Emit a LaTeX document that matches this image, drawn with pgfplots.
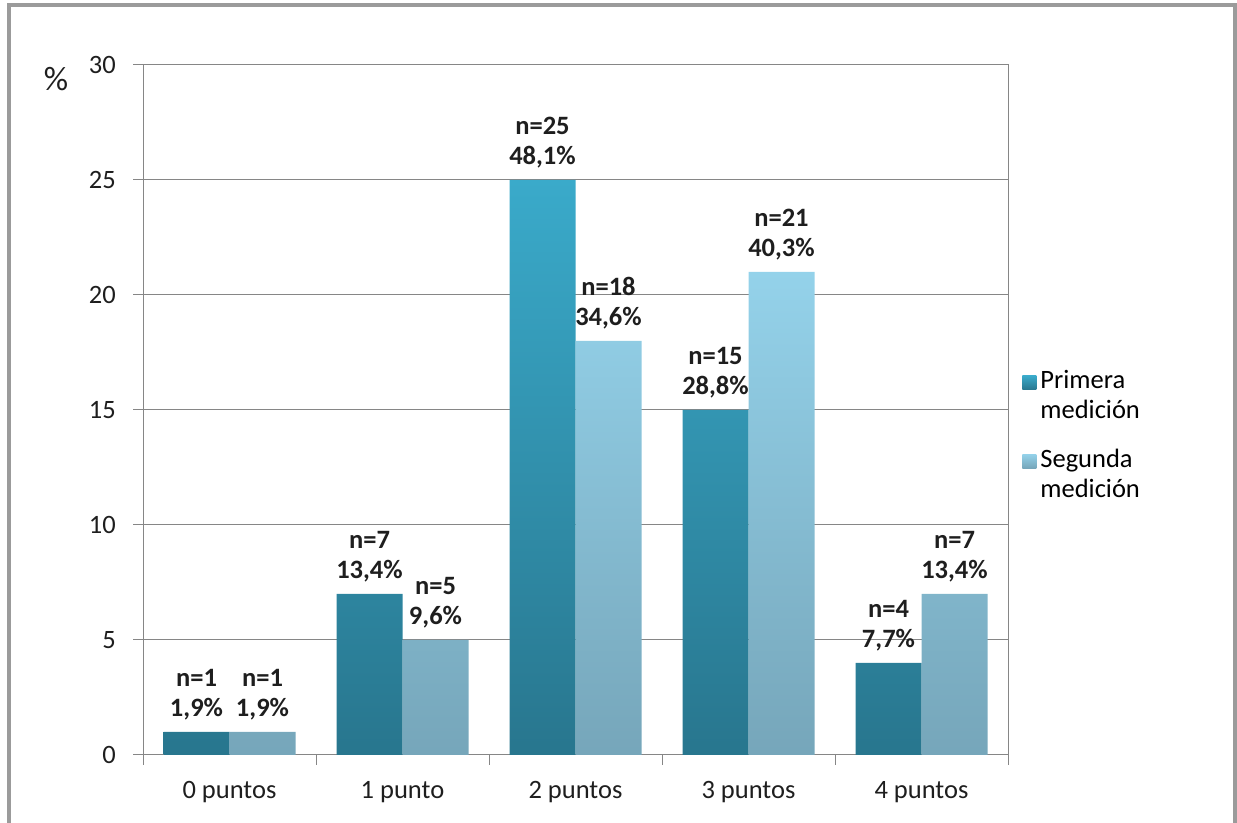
\documentclass[border=0pt]{standalone}
\usepackage{fontspec}
\setmainfont{Carlito}
\usepackage{pgfplots}
\pgfplotsset{compat=1.18}
\definecolor{gridc}{RGB}{134,134,134}
\definecolor{pTop}{RGB}{58,170,202}
\definecolor{pBot}{RGB}{40,118,142}
\definecolor{sTop}{RGB}{148,210,234}
\definecolor{sBot}{RGB}{118,166,186}
\definecolor{framec}{RGB}{155,155,155}
\definecolor{txt}{RGB}{30,30,30}
\begin{document}
\fontsize{13.25}{15}\selectfont
\begin{tikzpicture}
\useasboundingbox (0pt,0pt) rectangle (618.5pt,411.5pt);
\draw[framec, line width=1.8pt] (4.5pt,-5pt) -- (4.5pt,409pt) -- (617.5pt,409pt) -- (617.5pt,-5pt);
\node[text=txt, font=\fontsize{17}{19}\selectfont] at (28pt,372pt) {\%};
\begin{axis}[
  at={(71.5pt,34pt)}, anchor=south west,
  scale only axis, width=432.5pt, height=345pt,
  xmin=-0.5, xmax=4.5, ymin=0, ymax=30,
  ybar=0pt, bar width=33pt,
  xtick={0,...,4},
  xticklabels={0 puntos,1 punto,2 puntos,3 puntos,4 puntos},
  minor xtick={-0.5,0.5,...,4.5},
  ytick={0,5,...,30},
  ymajorgrids,
  major grid style={gridc, line width=0.5pt},
  axis line style={gridc, line width=0.5pt},
  tick style={gridc, line width=0.5pt},
  every major x tick/.append style={draw=none},
  tick align=outside,
  xtick pos=left, ytick pos=left,
  major tick length=5pt, minor tick length=5pt,
  /pgf/number format/assume math mode=true,
  tick label style={text=txt},
  yticklabel style={xshift=-4pt},
  xticklabel style={yshift=-3.5pt},
  point meta=explicit symbolic,
  nodes near coords,
  nodes near coords style={font=\bfseries, align=center, anchor=south, inner sep=0pt, yshift=6pt, text=txt},
  legend style={at={(rel axis cs:1,0.5)}, anchor=west, xshift=7pt, yshift=-13pt, draw=none, fill=none, cells={align=left, anchor=west}, row sep=9pt, inner sep=0pt},
  legend image code/.code={\path[#1,draw=none] (0pt,3.5pt) rectangle (7pt,10.5pt);},
]
\addplot[draw=none, top color=pTop, bottom color=pBot] coordinates {
  (0,1) [n=1\\1,9\%]
  (1,7) [n=7\\13,4\%]
  (2,25) [n=25\\48,1\%]
  (3,15) [n=15\\28,8\%]
  (4,4) [n=4\\7,7\%]
};
\addplot[draw=none, top color=sTop, bottom color=sBot] coordinates {
  (0,1) [n=1\\1,9\%]
  (1,5) [n=5\\9,6\%]
  (2,18) [n=18\\34,6\%]
  (3,21) [n=21\\40,3\%]
  (4,7) [n=7\\13,4\%]
};
\legend{Primera\\medición, Segunda\\medición}
\end{axis}
\end{tikzpicture}
\end{document}
